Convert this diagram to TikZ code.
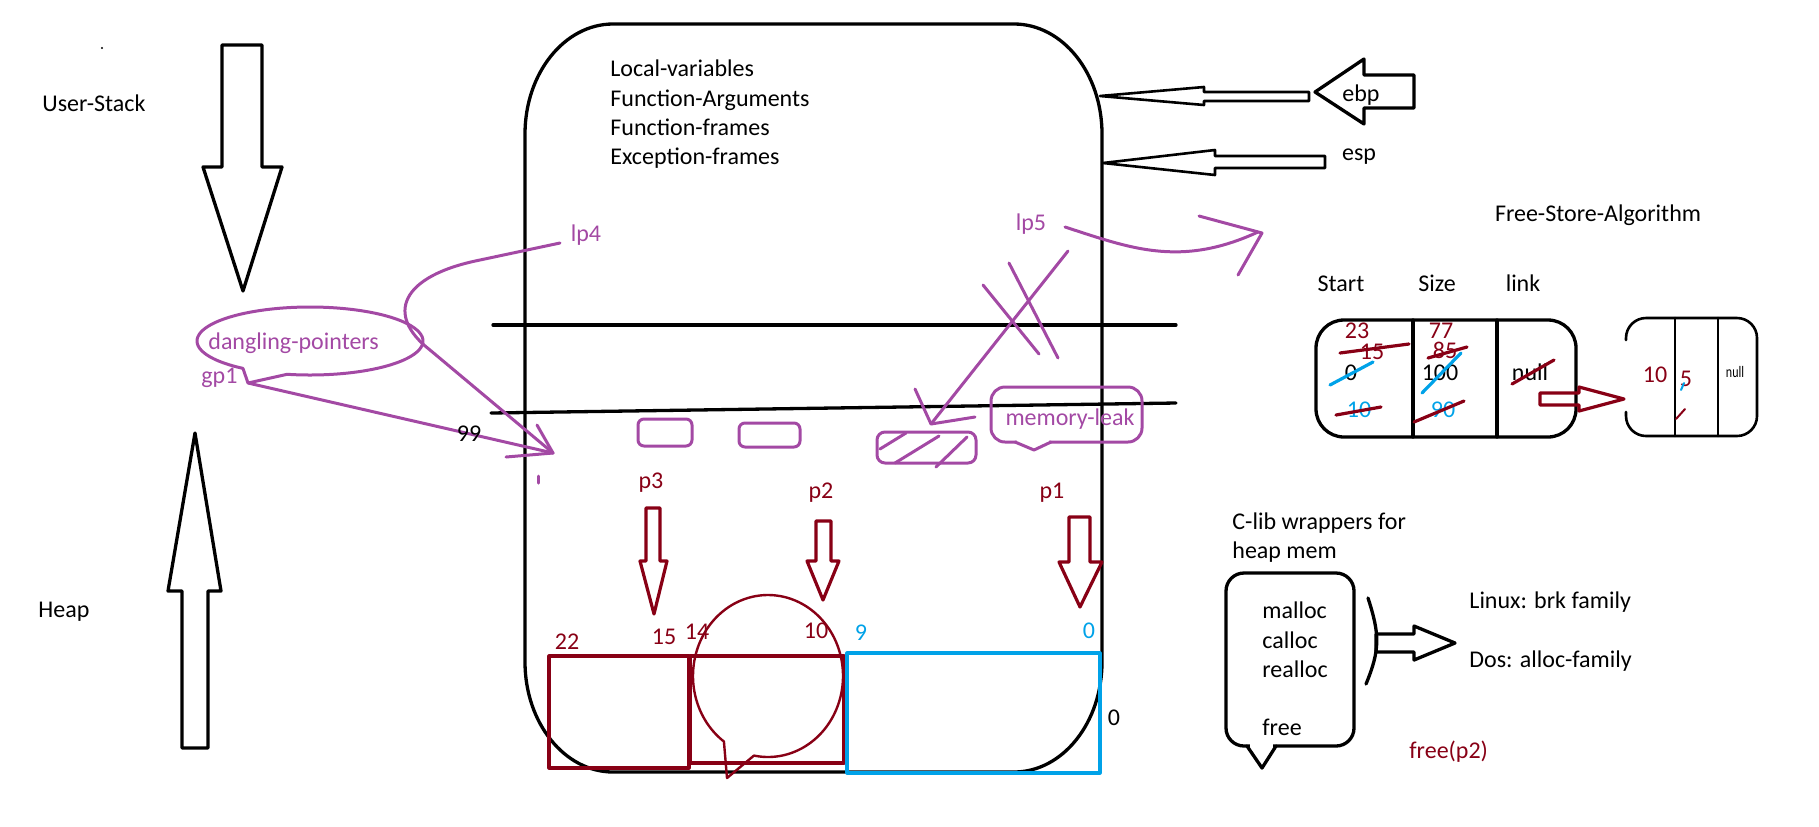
\documentclass[tikz,border=0pt]{standalone}
\usepackage{fontspec}
\usepackage{graphicx}
\setmainfont{Carlito}
\definecolor{pred}{RGB}{136,0,21}
\definecolor{ppur}{RGB}{163,73,164}
\definecolor{pblu}{RGB}{0,162,232}
\begin{document}
\begin{tikzpicture}[x=0.5pt,y=-0.5pt,line join=round,line cap=round,
  txt/.style={inner sep=0pt,text height=7.7pt,text depth=0pt,font=\fontsize{12}{14}\selectfont},
  blk/.style={draw=black,line width=1.65pt},
  thinblk/.style={draw=black,line width=1.3pt},
  purln/.style={draw=ppur,line width=1.5pt},
  redln/.style={draw=pred,line width=1.6pt},
  bluln/.style={draw=pblu,line width=1.6pt}]
\useasboundingbox (0,0) rectangle (1819,826);

% ---------- left side arrows ----------
\draw[blk] (222,45) -- (262,45) -- (262,167) -- (282,167) -- (243,291) -- (203,167) -- (222,167) -- cycle;
\draw[blk] (195,433) -- (221,591) -- (208,591) -- (208,748) -- (182,748) -- (182,591) -- (168,591) -- cycle;
\fill (102,48) circle[radius=0.6pt];
\node[txt,anchor=west] (us) at (42,104) {User-Stack};
\node[txt,anchor=west] (hp) at (38,610) {Heap};

% ---------- main stack box ----------
\draw[blk] (613,24) -- (1014,24) .. controls (1062.6,24) and (1102,73.3) .. (1102,134) -- (1102,662) .. controls (1102,722.7) and (1062.6,772) .. (1014,772) -- (613,772) .. controls (564.4,772) and (525,722.7) .. (525,662) -- (525,134) .. controls (525,73.3) and (564.4,24) .. cycle;
\node[txt,anchor=west] (t1) at (610,69) {Local-variables};
\node[txt,anchor=west] (t2) at (610,99) {Function-Arguments};
\node[txt,anchor=west] (t3) at (610,128) {Function-frames};
\node[txt,anchor=west] (t4) at (610,157) {Exception-frames};

\draw[blk] (493,325) -- (1176,325);
\draw[blk] (491,413) -- (1176,403);

% ---------- ebp / esp ----------
\draw[thinblk] (1100,96) -- (1204,87) -- (1204,92) -- (1309,92) -- (1309,101) -- (1204,101) -- (1204,105) -- cycle;
\draw[blk] (1315,92) -- (1364,59) -- (1364,75) -- (1414,75) -- (1414,108) -- (1364,108) -- (1364,124) -- cycle;
\draw[thinblk] (1103,163) -- (1215,150) -- (1215,156) -- (1325,156) -- (1325,168) -- (1215,168) -- (1215,175) -- cycle;
\node[txt] (ebp) at (1361,94) {ebp};
\node[txt] (esp) at (1359,153) {esp};

% ---------- dangling pointers ----------
\draw[purln] plot[domain=126.4:461.7,samples=90,smooth] ({310+113*cos(\x)},{341+34*sin(\x)}) -- (248,383) -- cycle;
\node[txt,text=ppur,anchor=west] (dp) at (208,342) {dangling-pointers};
\node[txt,text=ppur,anchor=west] (gp1) at (201,376) {gp1};
\coordinate (tipA) at (553,453);
\draw[purln] (248,383) -- (tipA);
\draw[purln] (537,425) -- (tipA) -- (506,457);
\draw[purln] (538,476) -- (538,483);
\node[txt,text=ppur] (lp4) at (586,234) {lp4};
\draw[purln] (560,243) -- (480,260) .. controls (400,276) and (385,315) .. (430,350) -- (tipA);
\node[txt] (n99) at (469,434) {99};

% ---------- purple blocks ----------
\draw[purln,rounded corners=3pt] (638,419) rectangle (692,446);
\draw[purln,rounded corners=3pt] (739,423) rectangle (800,447);
\draw[purln,rounded corners=4pt] (877,432) rectangle (976,463);
\draw[purln] (880,449) -- (906,433);
\draw[purln] (895,463) -- (939,436);
\draw[purln] (936,467) -- (967,437);

\draw[purln,rounded corners=7pt] (991,387) rectangle (1142,442);
\fill[white] (1017,439.5) rectangle (1049,445);
\draw[purln] (1015,442) -- (1034,450) -- (1051,442);
\node[txt,text=ppur] (ml) at (1070,418) {memory-leak};

% ---------- lp5 ----------
\node[txt,text=ppur] (lp5) at (1031,223) {lp5};
\draw[purln] (1065,227) .. controls (1130,248) and (1180,268) .. (1258,232);
\draw[purln] (1199,216) -- (1262,233) -- (1238,275);
\coordinate (tipB) at (931,424);
\draw[purln] (1068,251) -- (tipB);
\draw[purln] (915,389) -- (tipB) -- (975,417);
\draw[purln] (983,285) -- (1039,354);
\draw[purln] (1009,263) -- (1058,358);

% ---------- red pointers ----------
\node[txt,text=pred] (p3) at (651,481) {p3};
\node[txt,text=pred] (p2) at (821,491) {p2};
\node[txt,text=pred] (p1) at (1052,491) {p1};
\draw[redln] (646,508) -- (660,508) -- (660,561) -- (667,561) -- (654,614) -- (640,561) -- (646,561) -- cycle;
\draw[redln] (816,521) -- (831,521) -- (831,561) -- (839,561) -- (823,600) -- (807,561) -- (816,561) -- cycle;
\draw[redln] (1069,517) -- (1090,517) -- (1090,562) -- (1102,562) -- (1080,607) -- (1059,562) -- (1069,562) -- cycle;

% ---------- heap blocks ----------
\draw[redln] (549,656) rectangle (689,768);
\draw[redln] (690,656) rectangle (844,763);
\draw[bluln] (847,653) rectangle (1100,773);
\draw[redln,line width=1.2pt] plot[domain=126:460.8,samples=90,smooth] ({768+75*cos(\x)},{676+81*sin(\x)}) -- (727,778) -- cycle;
\node[txt,text=pred] (n22) at (567,642) {22};
\node[txt,text=pred] (n15) at (664,637) {15};
\node[txt,text=pred] (n14) at (697,632) {14};
\node[txt,text=pred] (n10) at (816,631) {10};
\node[txt,text=pblu] (n9) at (861,633) {9};
\node[txt,text=pblu] (n0b) at (1089,631) {0};
\node[txt] (n0) at (1114,718) {0};

% ---------- free store ----------
\node[txt] (fsa) at (1598,214) {Free-Store-Algorithm};
\node[txt] (hs) at (1341,284) {Start};
\node[txt] (hz) at (1437,284) {Size};
\node[txt] (hl) at (1523,284) {link};
\draw[blk,rounded corners=14pt] (1316,320) rectangle (1576,437);
\draw[blk] (1413,320) -- (1413,437);
\draw[blk] (1497,320) -- (1497,437);
\node[txt,text=pred] (r23) at (1357,331) {23};
\node[txt,text=pred] (r15) at (1372,352) {15};
\node[txt] (r0) at (1351,373) {0};
\node[txt,text=pblu] (r10) at (1359,410) {10};
\node[txt,text=pred] (r77) at (1441,331) {77};
\node[txt,text=pred] (r85) at (1445,351) {85};
\node[txt] (r100) at (1440,373) {100};
\node[txt,text=pblu] (r90) at (1443,410) {90};
\node[txt] (rnull) at (1530,373) {null};
\draw[redln] (1340,353) -- (1409,344);
\draw[bluln] (1330,385) -- (1373,362);
\draw[redln] (1336,415) -- (1381,407);
\draw[redln] (1428,358) -- (1467,347);
\draw[bluln] (1422,393) -- (1461,353);
\draw[redln] (1414,422) -- (1464,401);
\draw[redln] (1512,384) -- (1554,360);

\draw[redln] (1540,393) -- (1579,393) -- (1579,387) -- (1624,399) -- (1579,411) -- (1579,405) -- (1540,405) -- cycle;

\draw[thinblk,rounded corners=10pt] (1626,340) -- (1626,318) -- (1757,318) -- (1757,436) -- (1626,436) -- (1626,412);
\draw[thinblk] (1675,318) -- (1675,436);
\draw[thinblk] (1718,318) -- (1718,436);
\node[txt,text=pred] (s10) at (1655,375) {10};
\node[txt,text=pred] (s5) at (1686,379) {5};
\node[txt,font=\fontsize{8}{9}\selectfont,text height=5pt] (snull) at (1735,372) {\scalebox{0.75}[1]{null}};
\draw[redln,line width=1pt] (1676,419) -- (1685,409);
\draw[bluln,line width=1pt] (1681,390) -- (1684,383);

% ---------- C-lib wrappers ----------
\node[txt,anchor=west] (cl1) at (1232,522) {C-lib wrappers for};
\node[txt,anchor=west] (cl2) at (1232,551) {heap mem};
\draw[blk,rounded corners=9pt] (1226,573) rectangle (1354,746);
\fill[white] (1250,743) rectangle (1273,749.5);
\draw[blk] (1247,746) -- (1262,768) -- (1276,746);
\node[txt,anchor=west] (m1) at (1262,611) {malloc};
\node[txt,anchor=west] (m2) at (1262,641) {calloc};
\node[txt,anchor=west] (m3) at (1262,670) {realloc};
\node[txt,anchor=west] (m4) at (1262,728) {free};
\draw[blk] (1368,598) .. controls (1380,635) and (1380,650) .. (1366,684);
\draw[blk] (1376,634) -- (1414,634) -- (1414,626) -- (1455,643) -- (1414,660) -- (1414,652) -- (1376,652) -- cycle;
\node[txt,anchor=west] (lx) at (1469,601) {Linux: brk family};
\node[txt,anchor=west] (dos) at (1469,660) {Dos: alloc-family};
\node[txt,anchor=west,text=pred] (fp2) at (1409,751) {free(p2)};
\end{tikzpicture}
\end{document}
